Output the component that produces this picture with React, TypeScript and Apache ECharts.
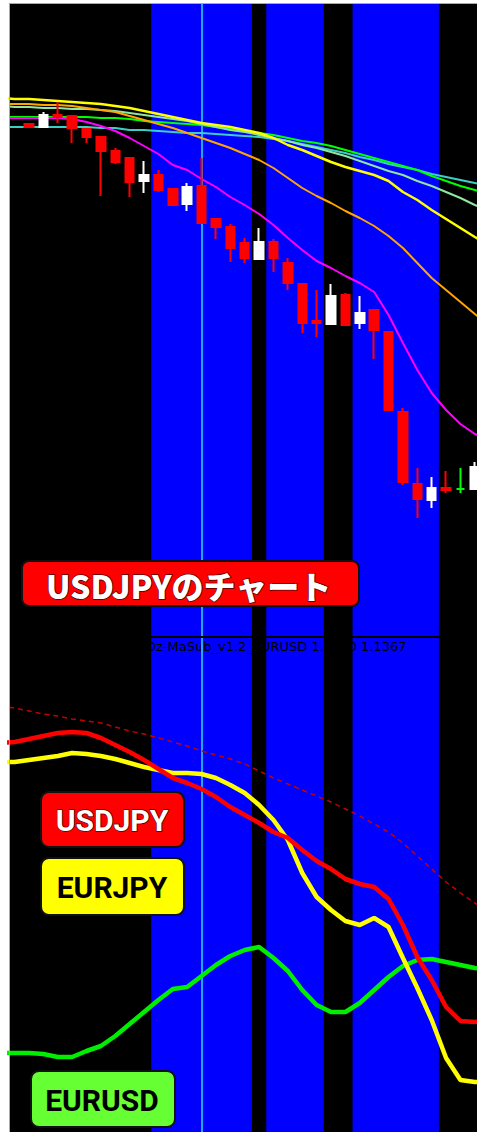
import React, { useEffect, useRef } from "react";
import * as echarts from "echarts";

// ---------- Upper panel: USDJPY candles [open, close, low, high] ----------
const candleOHLC: number[][] = [
  [111.76, 111.73, 111.72, 111.77],
  [111.73, 111.85, 111.73, 111.88],
  [111.85, 111.83, 111.77, 111.98],
  [111.84, 111.72, 111.57, 111.84],
  [111.71, 111.63, 111.57, 111.71],
  [111.63, 111.49, 111.04, 111.63],
  [111.49, 111.38, 111.36, 111.52],
  [111.42, 111.18, 111.03, 111.42],
  [111.19, 111.25, 111.07, 111.39],
  [111.25, 111.10, 111.08, 111.30],
  [111.11, 110.95, 110.95, 111.11],
  [110.96, 111.13, 110.89, 111.17],
  [111.14, 110.77, 110.77, 111.42],
  [110.81, 110.73, 110.61, 110.81],
  [110.73, 110.52, 110.38, 110.76],
  [110.57, 110.42, 110.37, 110.62],
  [110.41, 110.58, 110.41, 110.72],
  [110.58, 110.42, 110.28, 110.61],
  [110.37, 110.17, 110.10, 110.42],
  [110.16, 109.77, 109.67, 110.16],
  [109.79, 109.77, 109.63, 110.10],
  [109.76, 110.04, 109.76, 110.16],
  [110.05, 109.75, 109.75, 110.07],
  [109.77, 109.87, 109.71, 110.04],
  [109.90, 109.70, 109.41, 109.90],
  [109.68, 108.90, 108.90, 109.68],
  [108.88, 108.18, 108.15, 108.92],
  [108.16, 108.01, 107.82, 108.32],
  [108.00, 108.12, 107.92, 108.23],
  [108.12, 108.10, 108.07, 108.29],
  [108.11, 108.11, 108.07, 108.32],
  [108.11, 108.33, 108.11, 108.38],
];
const dojiGreenBars = [30];

// Moving averages, bar positions -2 .. 32
const lineFirstBar = -2;
const maYellow = [112.02, 112.01, 112.01, 112.0, 111.99, 111.98, 111.97, 111.96, 111.94, 111.92, 111.89, 111.86, 111.83, 111.8, 111.77, 111.75, 111.73, 111.7, 111.67, 111.62, 111.55, 111.5, 111.44, 111.38, 111.33, 111.29, 111.25, 111.19, 111.08, 111.0, 110.9, 110.81, 110.72, 110.63, 110.55];
const maPaleGreen = [111.94, 111.93, 111.93, 111.92, 111.92, 111.91, 111.91, 111.9, 111.89, 111.87, 111.85, 111.83, 111.81, 111.79, 111.76, 111.73, 111.7, 111.68, 111.65, 111.62, 111.59, 111.55, 111.52, 111.48, 111.44, 111.39, 111.34, 111.29, 111.25, 111.19, 111.14, 111.08, 111.02, 110.95, 110.89];
const maGreen = [111.83, 111.83, 111.83, 111.83, 111.83, 111.83, 111.83, 111.82, 111.82, 111.81, 111.79, 111.78, 111.77, 111.76, 111.75, 111.73, 111.71, 111.69, 111.67, 111.65, 111.62, 111.59, 111.57, 111.54, 111.5, 111.46, 111.42, 111.38, 111.34, 111.3, 111.24, 111.19, 111.14, 111.1, 111.06];
const maTeal = [111.73, 111.73, 111.73, 111.73, 111.73, 111.73, 111.73, 111.72, 111.72, 111.7, 111.7, 111.69, 111.68, 111.67, 111.67, 111.66, 111.65, 111.64, 111.63, 111.61, 111.59, 111.56, 111.53, 111.5, 111.47, 111.43, 111.4, 111.36, 111.33, 111.3, 111.26, 111.23, 111.2, 111.17, 111.14];
const maOrange = [111.96, 111.96, 111.96, 111.95, 111.95, 111.94, 111.92, 111.9, 111.88, 111.84, 111.8, 111.76, 111.72, 111.67, 111.62, 111.57, 111.52, 111.46, 111.4, 111.32, 111.22, 111.12, 111.04, 110.97, 110.89, 110.82, 110.74, 110.64, 110.52, 110.37, 110.22, 110.1, 109.98, 109.86, 109.75];
const maMagenta = [111.82, 111.82, 111.82, 111.82, 111.82, 111.81, 111.78, 111.74, 111.69, 111.62, 111.54, 111.46, 111.35, 111.3, 111.21, 111.13, 111.03, 110.95, 110.86, 110.75, 110.62, 110.5, 110.39, 110.32, 110.24, 110.17, 110.08, 109.85, 109.57, 109.3, 109.07, 108.9, 108.76, 108.66, 108.6];

// ---------- Lower panel: Dz-MaSub strength lines ----------
const subSignal = [1.8, 1.78, 1.75, 1.72, 1.7, 1.67, 1.65, 1.63, 1.59, 1.55, 1.52, 1.48, 1.44, 1.4, 1.35, 1.31, 1.27, 1.22, 1.15, 1.08, 1.02, 0.96, 0.9, 0.84, 0.77, 0.7, 0.62, 0.54, 0.43, 0.3, 0.17, 0.04, -0.07, -0.17, -0.26];
const subUSDJPY = [1.43, 1.44, 1.47, 1.5, 1.53, 1.54, 1.53, 1.48, 1.41, 1.34, 1.26, 1.17, 1.08, 1.03, 0.97, 0.89, 0.79, 0.71, 0.63, 0.54, 0.48, 0.36, 0.25, 0.17, 0.07, 0.02, -0.01, -0.13, -0.39, -0.71, -0.94, -1.21, -1.35, -1.36, -1.35];
const subEURJPY = [1.24, 1.24, 1.26, 1.28, 1.3, 1.33, 1.32, 1.3, 1.27, 1.23, 1.19, 1.16, 1.13, 1.13, 1.12, 1.08, 1.01, 0.93, 0.81, 0.66, 0.46, 0.13, -0.11, -0.24, -0.35, -0.39, -0.32, -0.41, -0.72, -1.02, -1.34, -1.72, -1.94, -1.96, -1.96];
const subEURUSD = [-1.67, -1.67, -1.67, -1.68, -1.71, -1.71, -1.65, -1.6, -1.5, -1.38, -1.26, -1.14, -1.03, -1.01, -0.9, -0.79, -0.7, -0.64, -0.61, -0.72, -0.85, -1.04, -1.19, -1.26, -1.26, -1.17, -1.04, -0.91, -0.8, -0.74, -0.73, -0.76, -0.79, -0.82, -0.84];

// Sessions (blue bands) and cursor
const sessionStartBar = [9, 17, 23];
const sessionEndBar = [15, 20, 28];
const cursorBar = 12;

const chartTitle = "USDJPYのチャート";
const subLabel = "Dz-MaSub_v1.2_EURUSD 1.1370 1.1367";
const legendNames = ["USDJPY", "EURJPY", "EURUSD"];

export default function App() {
  const ref = useRef<HTMLDivElement>(null);

  useEffect(() => {
    const chart = echarts.init(ref.current!, null, { renderer: "svg" });

    const toLine = (arr: number[]) => arr.map((v, k) => [lineFirstBar + k, v]);
    const bands = sessionStartBar.map((s, k) => [{ xAxis: s - 0.5 }, { xAxis: sessionEndBar[k] + 0.5 }]);

    const candleData = candleOHLC.map((c, i) => {
      const item: any = { value: [i, c[0], c[1], c[2], c[3]] };
      if (dojiGreenBars.includes(i)) item.itemStyle = { color: "#00ff00", borderColor: "#00ff00" };
      return item;
    });

    const maLine = (name: string, data: number[], color: string, width = 2) => ({
      name,
      type: "line",
      xAxisIndex: 0,
      yAxisIndex: 0,
      data: toLine(data),
      showSymbol: false,
      symbol: "none",
      lineStyle: { color, width },
      z: 4,
      silent: true,
    });
    const subLine = (name: string, data: number[], color: string, width: number, type: any = "solid", z = 4) => ({
      name,
      type: "line",
      xAxisIndex: 1,
      yAxisIndex: 1,
      data: toLine(data),
      showSymbol: false,
      symbol: "none",
      lineStyle: { color, width, type },
      z,
      silent: true,
    });

    const X_MIN = -1.32;
    const X_MAX = 31.15;

    const label = (x: number, y: number, w: number, h: number, fill: string, text: string, textColor: string, fontSize: number, tx: number) => [
      {
        type: "rect",
        shape: { x, y, width: w, height: h, r: 8 },
        style: { fill, stroke: "#111", lineWidth: 2 },
        z: 20,
      },
      {
        type: "text",
        x: tx,
        y: y + h / 2 + 1,
        style: {
          text,
          fill: textColor,
          font: `bold ${fontSize}px Roboto, "Noto Sans CJK JP", sans-serif`,
          textAlign: "center",
          textVerticalAlign: "middle",
          stroke: textColor === "#ffffff" ? "#550000" : "transparent",
          lineWidth: textColor === "#ffffff" ? 1.5 : 0,
        },
        z: 21,
      },
    ];

    const cursorMark = {
      silent: true,
      z: 3,
      symbol: ["none", "none"],
      label: { show: false },
      lineStyle: { color: "#1ea6ff", width: 2, type: "solid" },
      data: [{ xAxis: cursorBar }],
    };

    const option: any = {
      animation: false,
      backgroundColor: "#ffffff",
      grid: [
        { left: 10, top: 4, width: 467, height: 634, show: true, backgroundColor: "#000000", borderWidth: 0 },
        { left: 10, top: 638, width: 467, height: 494, show: true, backgroundColor: "#000000", borderWidth: 0 },
      ],
      xAxis: [0, 1].map((g) => ({ type: "value", gridIndex: g, min: X_MIN, max: X_MAX, show: false, splitLine: { show: false } })),
      yAxis: [
        { type: "value", gridIndex: 0, min: 106.62, max: 112.96, show: false, splitLine: { show: false } },
        { type: "value", gridIndex: 1, min: -2.46, max: 2.48, show: false, splitLine: { show: false } },
      ],
      series: [
        {
          type: "line",
          xAxisIndex: 0,
          yAxisIndex: 0,
          data: [],
          silent: true,
          markArea: { silent: true, z: 1, itemStyle: { color: "#0000ff" }, data: bands },
          markLine: cursorMark,
        },
        {
          type: "line",
          xAxisIndex: 1,
          yAxisIndex: 1,
          data: [],
          silent: true,
          markArea: { silent: true, z: 1, itemStyle: { color: "#0000ff" }, data: bands },
          markLine: cursorMark,
        },
        maLine("MA teal", maTeal, "#3ccfc8"),
        maLine("MA green", maGreen, "#00ff00"),
        maLine("MA pale", maPaleGreen, "#8ee6a0"),
        maLine("MA orange", maOrange, "#ffa500"),
        maLine("MA yellow", maYellow, "#ffff00", 2.5),
        maLine("MA magenta", maMagenta, "#ff00ff"),
        {
          name: "USDJPY",
          type: "candlestick",
          xAxisIndex: 0,
          yAxisIndex: 0,
          encode: { x: 0, y: [1, 2, 3, 4] },
          data: candleData,
          barWidth: 9,
          z: 10,
          silent: true,
          itemStyle: {
            color: "#ffffff",
            color0: "#ff0000",
            borderColor: "#ffffff",
            borderColor0: "#ff0000",
            borderWidth: 2,
          },
        },
        subLine("signal", subSignal, "#c40000", 1.5, [5, 4], 4),
        subLine("EURUSD", subEURUSD, "#00ee00", 4.5, "solid", 5),
        subLine("EURJPY", subEURJPY, "#ffff00", 4.5, "solid", 6),
        subLine("USDJPY", subUSDJPY, "#ff0000", 4.5, "solid", 7),
      ],
      graphic: [
        { type: "line", shape: { x1: 9.5, y1: 3, x2: 9.5, y2: 1132 }, style: { stroke: "#a8a8a8", lineWidth: 1 }, z: 30 },
        { type: "line", shape: { x1: 9, y1: 3.5, x2: 477, y2: 3.5 }, style: { stroke: "#a8a8a8", lineWidth: 1 }, z: 30 },
        { type: "rect", shape: { x: 10, y: 636, width: 467, height: 2 }, style: { fill: "#000000" }, z: 8 },
        {
          type: "text",
          x: 146,
          y: 646,
          style: { text: subLabel, fill: "#000000", font: '13px "DejaVu Sans", sans-serif', textVerticalAlign: "middle" },
          z: 2,
        },
        {
          type: "rect",
          shape: { x: 22, y: 561, width: 337, height: 45, r: 7 },
          style: { fill: "#ff0000", stroke: "#111", lineWidth: 2 },
          z: 20,
        },
        {
          type: "text",
          x: 46,
          y: 585,
          style: {
            text: chartTitle,
            fill: "#ffffff",
            font: '900 32px "Noto Sans CJK JP", sans-serif',
            textVerticalAlign: "middle",
            stroke: "#550000",
            lineWidth: 1.5,
          },
          z: 21,
        },
        ...label(41, 792, 143, 55, "#ff0000", legendNames[0], "#ffffff", 30, 112),
        ...label(41, 858, 143, 57, "#ffff00", legendNames[1], "#000000", 30, 112),
        ...label(31, 1071, 144, 56, "#66ff33", legendNames[2], "#000000", 30, 102),
      ],
    };

    chart.setOption(option);
    return () => chart.dispose();
  }, []);

  return <div ref={ref} style={{ position: "fixed", left: 0, top: 0, width: 477, height: 1132 }} />;
}
